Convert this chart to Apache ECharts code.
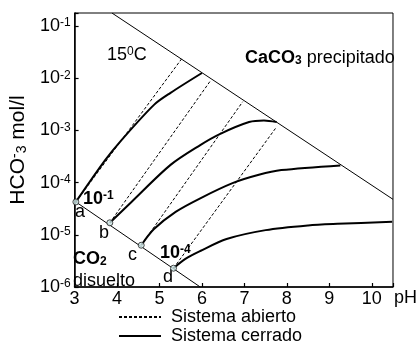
<!DOCTYPE html>
<html>
<head>
<meta charset="utf-8">
<title>HCO3 - pH</title>
<script src="https://cdn.jsdelivr.net/npm/echarts@6/dist/echarts.min.js"></script>
<style>
    html, body { margin: 0; padding: 0; background: #fff; }
    #chart { width: 420px; height: 344px; }
</style>
</head>
<body>
<div id="chart"></div>
<script>
// eje x: pH, eje y: log10 [HCO3-] (mol/l)
var phTicks = [3, 4, 5, 6, 7, 8, 9, 10];
var logTicks = [-6, -5, -4, -3, -2, -1];

// puntos a, b, c, d (CO2 disuelto)
var ptNames = ['a', 'b', 'c', 'd'];
var ptPH = [3.03, 3.83, 4.57, 5.33];
var ptLog = [-4.37, -4.77, -5.20, -5.64];

// limite CaCO3 precipitado
var calcitaPH = [3.88, 10.5];
var calcitaLog = [-0.75, -4.32];

// limite CO2 disuelto
var co2PH = [3.03, 5.96];
var co2Log = [-4.37, -6.0];

// sistema abierto (discontinuas)
var abierto1PH = [3.03, 5.52];
var abierto1Log = [-4.37, -1.63];
var abierto2PH = [3.83, 6.19];
var abierto2Log = [-4.77, -2.06];
var abierto3PH = [4.57, 6.96];
var abierto3Log = [-5.20, -2.45];
var abierto4PH = [5.33, 7.76];
var abierto4Log = [-5.64, -2.93];

// sistema cerrado (continuas)
var cerrado1PH = [3.03, 3.72, 4.11, 4.87, 5.26, 6.00];
var cerrado1Log = [-4.37, -3.57, -3.18, -2.51, -2.28, -1.90];
var cerrado2PH = [3.83, 4.34, 5.26, 5.96, 6.42, 7.11, 7.46, 7.76];
var cerrado2Log = [-4.77, -4.37, -3.66, -3.28, -3.07, -2.84, -2.81, -2.84];
var cerrado3PH = [4.57, 4.87, 5.38, 5.96, 6.72, 7.34, 7.87, 9.26];
var cerrado3Log = [-5.20, -4.89, -4.56, -4.30, -4.01, -3.85, -3.76, -3.67];
var cerrado4PH = [5.33, 5.61, 5.96, 6.58, 7.50, 8.50, 9.19, 10.48];
var cerrado4Log = [-5.64, -5.46, -5.31, -5.08, -4.91, -4.82, -4.79, -4.75];

var FONT = '"Liberation Sans", Arial, sans-serif';

function pares(xs, ys) {
    var out = [];
    for (var i = 0; i < xs.length; i++) {
        out.push([xs[i], ys[i]]);
    }
    return out;
}

function linea(name, xs, ys, tipo, ancho, suave) {
    return {
        name: name,
        type: 'line',
        data: pares(xs, ys),
        symbol: 'none',
        smooth: suave ? 0.3 : false,
        lineStyle: { color: '#000', width: ancho, type: tipo },
        itemStyle: { color: '#000' },
        silent: true
    };
}

// una leyenda por entrada, para poder colocarlas una debajo de otra
function leyenda(nombre, top) {
    return {
        data: [nombre],
        left: 118,
        top: top,
        padding: 0,
        itemWidth: 42,
        itemHeight: 10,
        selectedMode: false,
        itemStyle: { opacity: 0 },
        textStyle: { color: '#000', fontSize: 18, fontFamily: FONT, padding: [0, 0, 0, 5] }
    };
}

var rich = {
    n: { fontSize: 18, fontFamily: FONT, color: '#000' },
    nb: { fontSize: 18, fontFamily: FONT, color: '#000', fontWeight: 'bold' },
    sup: { fontSize: 12, fontFamily: FONT, color: '#000', verticalAlign: 'top', padding: [0, 0, 4, 0] },
    supb: { fontSize: 12, fontFamily: FONT, color: '#000', fontWeight: 'bold', verticalAlign: 'top', padding: [0, 0, 4, 0] },
    subb: { fontSize: 12, fontFamily: FONT, color: '#000', fontWeight: 'bold', verticalAlign: 'bottom', padding: [4, 0, 0, 0] }
};

function texto(x, y, txt) {
    return {
        type: 'text', x: x, y: y, silent: true,
        style: { text: txt, rich: rich, font: '18px ' + FONT, fill: '#000', textVerticalAlign: 'middle' }
    };
}

var chart = echarts.init(document.getElementById('chart'));

var series = [
    linea('calcita', calcitaPH, calcitaLog, 'solid', 1, false),
    linea('co2', co2PH, co2Log, 'solid', 1, false),
    linea('Sistema abierto', abierto1PH, abierto1Log, [3, 2], 1, false),
    linea('Sistema abierto', abierto2PH, abierto2Log, [3, 2], 1, false),
    linea('Sistema abierto', abierto3PH, abierto3Log, [3, 2], 1, false),
    linea('Sistema abierto', abierto4PH, abierto4Log, [3, 2], 1, false),
    linea('Sistema cerrado', cerrado1PH, cerrado1Log, 'solid', 2, true),
    linea('Sistema cerrado', cerrado2PH, cerrado2Log, 'solid', 2, true),
    linea('Sistema cerrado', cerrado3PH, cerrado3Log, 'solid', 2, true),
    linea('Sistema cerrado', cerrado4PH, cerrado4Log, 'solid', 2, true),
    {
        name: 'puntos',
        type: 'scatter',
        data: pares(ptPH, ptLog),
        symbolSize: 6,
        z: 5,
        itemStyle: { color: '#cfe8e8', borderColor: '#222', borderWidth: 1 },
        silent: true
    }
];

var option = {
    animation: false,
    backgroundColor: '#fff',
    grid: { left: 72, right: 24, top: 13, bottom: 57, show: true, borderColor: '#000', borderWidth: 1 },
    legend: [
        leyenda('Sistema abierto', 308),
        leyenda('Sistema cerrado', 327)
    ],
    xAxis: {
        type: 'value',
        min: 3,
        max: 10.5,
        interval: 1,
        name: 'pH',
        nameLocation: 'end',
        nameGap: 1,
        nameTextStyle: { color: '#000', fontSize: 18, fontFamily: FONT, verticalAlign: 'top', padding: [2, 0, 0, 0] },
        axisLine: { lineStyle: { color: '#000', width: 1.5 } },
        axisTick: { inside: true, length: 4, lineStyle: { color: '#000', width: 1.2 } },
        axisLabel: {
            color: '#000', fontSize: 18, fontFamily: FONT, margin: 3,
            formatter: function (v) { return phTicks.indexOf(v) >= 0 ? String(v) : ''; }
        },
        splitLine: { show: false }
    },
    yAxis: {
        type: 'value',
        min: -6,
        max: -0.75,
        interval: 1,
        name: '{n|HCO}{sup|-}{sub|3}{n| mol/l}',
        nameLocation: 'middle',
        nameGap: 31,
        nameTextStyle: {
            rich: {
                n: { fontSize: 21, fontFamily: FONT, color: '#000' },
                sup: { fontSize: 14, fontFamily: FONT, color: '#000', verticalAlign: 'top', padding: [0, 0, 6, 0] },
                sub: { fontSize: 14, fontFamily: FONT, color: '#000', verticalAlign: 'bottom', padding: [6, 0, 0, 0] }
            }
        },
        axisLine: { lineStyle: { color: '#000', width: 1.5 } },
        axisTick: { inside: true, length: 4, lineStyle: { color: '#000', width: 1.2 } },
        axisLabel: {
            margin: 4,
            formatter: function (v) {
                return logTicks.indexOf(v) >= 0 ? '{b|10}{s|' + v + '}' : '';
            },
            rich: {
                b: { fontSize: 18, fontFamily: FONT, color: '#000' },
                s: { fontSize: 12, fontFamily: FONT, color: '#000', verticalAlign: 'top', padding: [0, 0, 4, 0] }
            }
        },
        splitLine: { show: false }
    },
    graphic: [
        texto(107, 55, '{n|15}{sup|0}{n|C}'),
        texto(245, 58, '{nb|CaCO}{subb|3}{n| precipitado}'),
        texto(83, 199, '{nb|10}{supb|-1}'),
        texto(75, 212, '{n|a}'),
        texto(99, 233, '{n|b}'),
        texto(128, 255, '{n|c}'),
        texto(163, 277, '{n|d}'),
        texto(160, 253, '{nb|10}{supb|-4}'),
        texto(73, 259, '{nb|CO}{subb|2}'),
        texto(73, 281, '{n|disuelto}')
    ],
    series: series
};

chart.setOption(option);
window.addEventListener('resize', function () {
    chart.resize();
});
</script>
</body>
</html>
